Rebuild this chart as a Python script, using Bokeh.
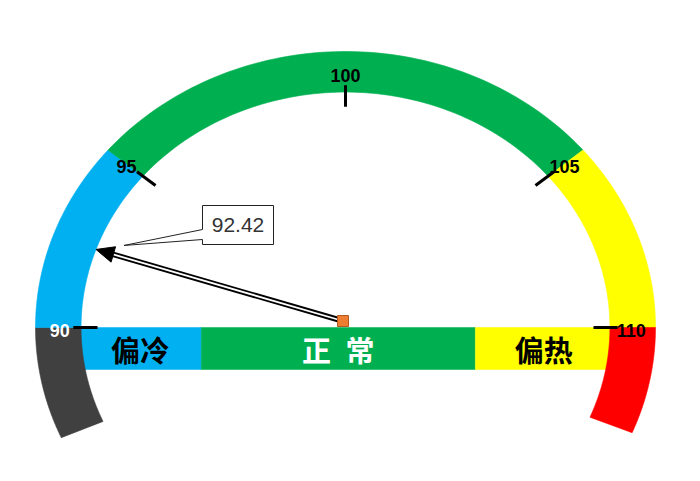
import numpy as np
from bokeh.plotting import figure
from bokeh.models import Range1d
from bokeh.core.properties import value
from bokeh.embed import file_html
from bokeh.resources import INLINE

# ---------------- data ----------------
tick_values = [90, 95, 100, 105, 110]
tick_labels = ["90", "95", "100", "105", "110"]
tick_label_colors = ["white", "black", "black", "black", "black"]

band_from = [87.06, 90, 95, 105, 110]
band_to = [90, 95, 105, 110, 112.8]
band_colors = ["#404040", "#00B0F0", "#00B050", "#FFFF00", "#FF0000"]

bar_labels = ["偏冷", "正\u2002常", "偏热"]
bar_colors = ["#00B0F0", "#00B050", "#FFFF00"]
bar_label_colors = ["black", "white", "black"]
bar_edges = [-0.86, -0.465, 0.419, 0.86]      # in gauge radius units

reading = 92.42

# ---------------- layout ----------------
W, H = 684, 465
CX, CY = 345, 327          # gauge centre in canvas px
SX, SY = 310.0, 276.0      # px per gauge unit (x / y)
R_OUT, R_IN = 1.0, 0.853

scale_values = [86, 90, 95, 105, 110, 114]
scale_angles = [212, 180, 140, 40, 0, -32]


def ang(v):
    return np.radians(np.interp(v, scale_values, scale_angles))


def to_data(px, py):
    return (px - CX) / SX, (CY - py) / SY


def to_px(x, y):
    return CX + x * SX, CY - y * SY


p = figure(width=W, height=H, output_backend="svg", toolbar_location=None,
           x_range=Range1d(-CX / SX, (W - CX) / SX),
           y_range=Range1d(-(H - CY) / SY, CY / SY),
           min_border=0, border_fill_color="white", background_fill_color="white")
p.axis.visible = False
p.grid.visible = False
p.outline_line_color = None

# ---- horizontal status bar ----
bar_top, bar_bot = 0.0, -42 / SY
p.quad(left=bar_edges[:-1], right=bar_edges[1:], top=bar_top, bottom=bar_bot,
       fill_color=bar_colors, line_color=bar_colors, line_width=0.5)

# ---- gauge bands ----
xs, ys = [], []
for a, b in zip(band_from, band_to):
    t = np.linspace(ang(a), ang(b), 80)
    xo, yo = R_OUT * np.cos(t), R_OUT * np.sin(t)
    xi, yi = R_IN * np.cos(t[::-1]), R_IN * np.sin(t[::-1])
    xs.append(np.concatenate([xo, xi]).tolist())
    ys.append(np.concatenate([yo, yi]).tolist())
p.patches(xs, ys, fill_color=band_colors, line_color=band_colors, line_width=0.6)

# ---- bar labels ----
mids = [(a + b) / 2 for a, b in zip(bar_edges[:-1], bar_edges[1:])]
p.text(x=mids, y=[(bar_top + bar_bot) / 2] * 3, text=bar_labels,
       text_color=bar_label_colors, text_font=value("Noto Sans CJK SC"),
       text_font_style="bold", text_font_size="29px",
       text_align="center", text_baseline="middle")

# ---- ticks ----
ta = ang(np.array(tick_values, dtype=float))
p.segment(x0=0.80 * np.cos(ta), y0=0.80 * np.sin(ta),
          x1=0.878 * np.cos(ta), y1=0.878 * np.sin(ta),
          line_color="black", line_width=3)

p.text(x=0.922 * np.cos(ta), y=0.922 * np.sin(ta) - 0.01, text=tick_labels,
       text_color=tick_label_colors,
       text_font=value("Liberation Sans"),
       text_font_style="bold", text_font_size="18px",
       text_align="center", text_baseline="middle")

# ---- needle ----
pivot = to_data(342.5, 320.5)
na = ang(reading)
tip = (R_IN * np.cos(na), R_IN * np.sin(na))
px0, py0 = to_px(*pivot)
px1, py1 = to_px(*tip)
d = np.hypot(px1 - px0, py1 - py0)
ux, uy = (px1 - px0) / d, (py1 - py0) / d
HL, HW = 18.0, 8.0
bx, by = px1 - HL * ux, py1 - HL * uy
shaft_end = to_data(bx + 2 * ux, by + 2 * uy)
p.line([pivot[0], shaft_end[0]], [pivot[1], shaft_end[1]], line_color="black", line_width=5.5)
p.line([pivot[0], shaft_end[0]], [pivot[1], shaft_end[1]], line_color="white", line_width=1.8)
h1 = to_data(bx - HW * uy, by + HW * ux)
h2 = to_data(bx + HW * uy, by - HW * ux)
p.patch([tip[0], h1[0], h2[0]], [tip[1], h1[1], h2[1]], fill_color="black", line_color="black")

p.scatter([pivot[0]], [pivot[1]], marker="square", size=11,
          fill_color="#ED7D31", line_color="#B05A20", line_width=1)

# ---- callout ----
cl, cr, ct, cb = 202, 273, 205, 244
pt = (px1 + 28, py1 - 4)
poly_px = [(cr, ct), (cl, ct), (cl, 229), pt, (cl, 239), (cl, cb), (cr, cb)]
cxs, cys = zip(*[to_data(a, b) for a, b in poly_px])
p.patch(list(cxs), list(cys), fill_color="white", line_color="#222222", line_width=1)
tx, ty = to_data((cl + cr) / 2, (ct + cb) / 2)
p.text(x=[tx], y=[ty], text=[f"{reading:.2f}"], text_color="#333333",
       text_font=value("Liberation Sans"), text_font_size="21px",
       text_align="center", text_baseline="middle")

open("out.html", "w").write(file_html(p, INLINE))
